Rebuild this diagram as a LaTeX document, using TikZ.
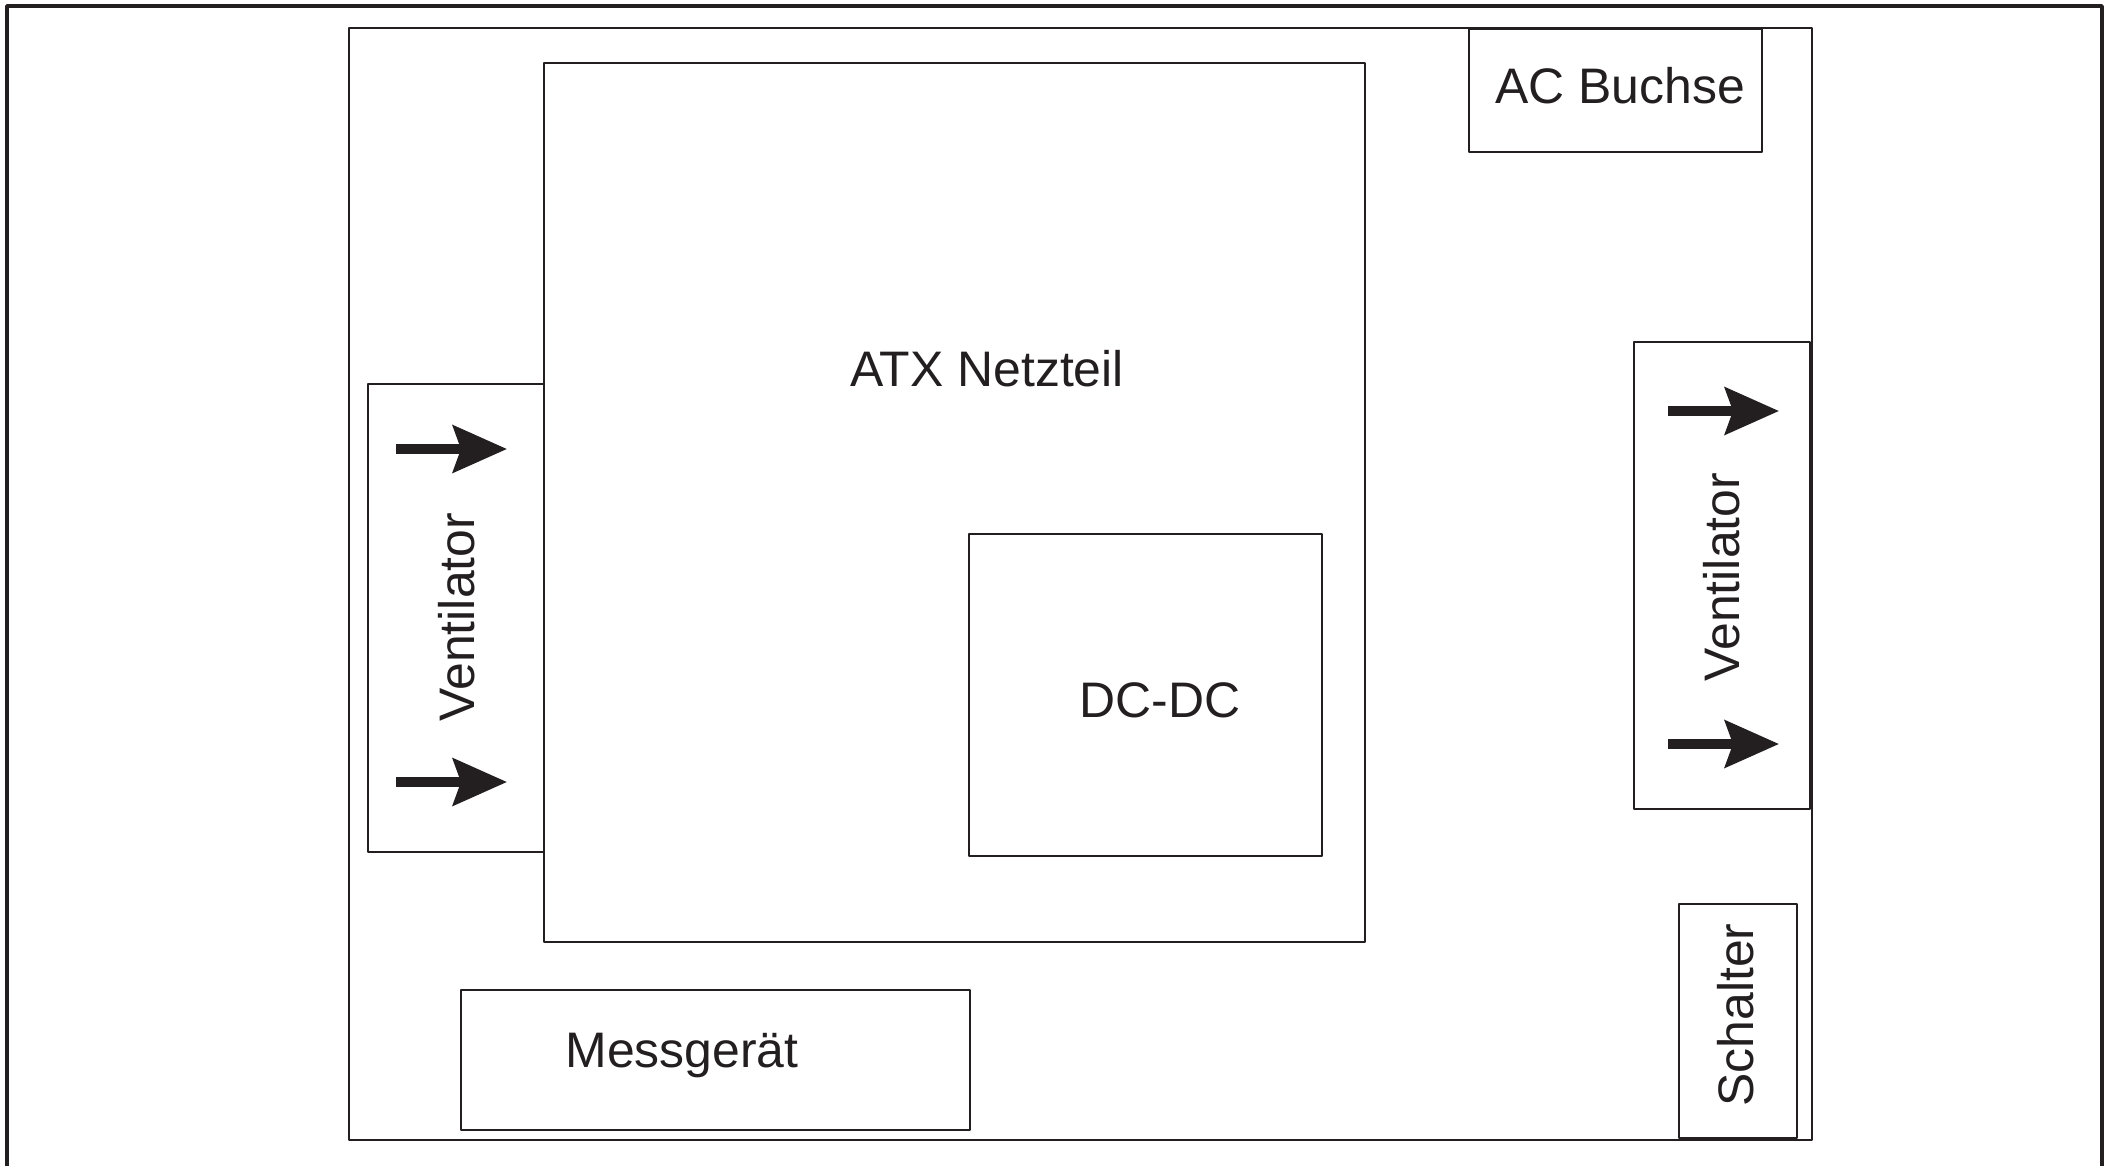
\documentclass[tikz,border=0pt]{standalone}
\usepackage{fontspec}
\setmainfont{Liberation Sans}
\usetikzlibrary{arrows.meta}
\definecolor{ink}{RGB}{35,31,32}

\begin{document}
\begin{tikzpicture}[line cap=round,line join=round,x=1cm,y=1cm,
        box/.style={line width=0.5pt,draw=ink},
        fanarrow/.style={line width=2.6pt,line cap=butt,draw=ink,fill=ink,-{Stealth[length=0.54cm,width=0.47cm,inset=0.08cm]}},
        lbl/.style={text=ink,inner sep=0pt,font=\fontsize{14.2}{17}\selectfont}]
                \useasboundingbox (0,0) rectangle (21.14,11.65);
                % outer frame
                \draw [line width=1pt,draw=ink] (0.07,-0.3)-- (0.07,11.59)-- (21.02,11.59)-- (21.02,-0.3);
                % housing
                \draw [box] (3.49,0.25) rectangle (18.12,11.37);
                % ATX power supply and DC-DC converter
                \draw [box] (5.44,2.23) rectangle (13.65,11.02);
                \draw [box] (9.69,3.09) rectangle (13.22,6.31);
                % fans
                \draw [box] (3.68,3.13) rectangle (5.44,7.81);
                \draw [box] (16.34,3.56) rectangle (18.10,8.23);
                % AC socket, meter, switch
                \draw [box] (14.69,10.13) rectangle (17.62,11.36);
                \draw [box] (4.61,0.35) rectangle (9.70,1.75);
                \draw [box] (16.79,0.27) rectangle (17.97,2.61);
                % air flow
                \foreach \y in {7.16,3.83}
                    \draw [fanarrow] (3.96,\y)-- (5.07,\y);
                \foreach \y in {7.54,4.21}
                    \draw [fanarrow] (16.68,\y)-- (17.79,\y);
                % labels
                \node [lbl,anchor=base] (atx) at (9.87,7.79) {ATX Netzteil};
                \node [lbl,anchor=base] (dcdc) at (11.60,4.48) {DC-DC};
                \node [lbl,anchor=base] (acb) at (16.20,10.62) {AC Buchse};
                \node [lbl,anchor=base] (mess) at (6.82,0.98) {Messgerät};
                \node [lbl,anchor=base,rotate=90] (ventL) at (4.74,5.48) {Ventilator};
                \node [lbl,anchor=base,rotate=90] (ventR) at (17.39,5.88) {Ventilator};
                \node [lbl,anchor=base,rotate=90] (schalter) at (17.53,1.50) {Schalter};
            \end{tikzpicture}
\end{document}
